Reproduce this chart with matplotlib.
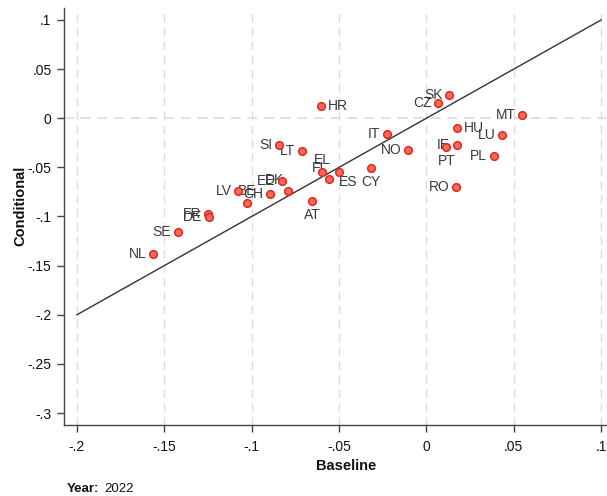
import matplotlib
matplotlib.use("Agg")
import matplotlib.pyplot as plt

plt.rcParams["font.family"] = ["Liberation Sans", "DejaVu Sans"]

# ----------------- Data -----------------
countries = ["SK", "CZ", "HR", "MT", "HU", "LU", "IT", "IE", "PT", "PL",
             "NO", "CY", "RO", "EL", "FI", "ES", "AT", "SI", "LT", "EE",
             "DK", "CH", "BE", "LV", "FR", "DE", "SE", "NL"]
baseline = [0.0132, 0.0069, -0.0601, 0.0550, 0.0177, 0.0435, -0.0223, 0.0177, 0.0114, 0.0389,
            -0.0103, -0.0315, 0.0172, -0.0595, -0.0560, -0.0498, -0.0653, -0.0841, -0.0710, -0.0824,
            -0.0790, -0.0893, -0.1025, -0.1076, -0.1248, -0.1242, -0.1420, -0.1563]
conditional = [0.0234, 0.0153, 0.0122, 0.0031, -0.0102, -0.0173, -0.0163, -0.0275, -0.0295, -0.0387,
               -0.0326, -0.0509, -0.0703, -0.0550, -0.0621, -0.0550, -0.0845, -0.0275, -0.0336, -0.0642,
               -0.0743, -0.0774, -0.0866, -0.0743, -0.0978, -0.1008, -0.1161, -0.1385]

x_ticks = [-0.2, -0.15, -0.1, -0.05, 0, 0.05, 0.1]
x_tick_labels = ["-.2", "-.15", "-.1", "-.05", "0", ".05", ".1"]
y_ticks = [0.1, 0.05, 0, -0.05, -0.1, -0.15, -0.2, -0.25, -0.3]
y_tick_labels = [".1", ".05", "0", "-.05", "-.1", "-.15", "-.2", "-.25", "-.3"]
diag = [-0.2, 0.1]

# label placement, clock positions (stata style), default is 9
label_pos = {"HR": 3, "HU": 3, "PT": 6, "CY": 6, "AT": 6, "EL": 12, "BE": 12,
             "FI": 10, "ES": 4, "DK": 10}
offsets = {
    3: ((5, 0), "left", "center"),
    9: ((-5, 0), "right", "center"),
    6: ((0, -5), "center", "top"),
    12: ((0, 4), "center", "bottom"),
    10: ((-3, 3), "right", "bottom"),
    4: ((0, -2), "left", "top"),
}

# ----------------- Plot -----------------
fig = plt.figure(figsize=(6.07, 4.96), dpi=100)
ax = fig.add_axes([64 / 607, 71 / 496, 543 / 607, 417 / 496])
ax.set_xlim(-0.2074, 0.1034)
ax.set_ylim(-0.3122, 0.1122)

for xt in x_ticks:
    ax.axvline(xt, color="#dcdcdc", linestyle=(0, (6, 4)), linewidth=1, zorder=0)
ax.axhline(0, color="#dcdcdc", linestyle=(0, (6, 4)), linewidth=1.2, zorder=0)

ax.plot(diag, diag, color="#333333", linewidth=1, zorder=1)

ax.scatter(baseline, conditional, s=30, facecolor="#f26b5b", edgecolor="#e3261b",
           linewidth=1.1, zorder=3)

for c, bx, cy in zip(countries, baseline, conditional):
    (dx, dy), ha, va = offsets[label_pos.get(c, 9)]
    ax.annotate(c, (bx, cy), xytext=(dx, dy), textcoords="offset points",
                ha=ha, va=va, fontsize=10, color="#3a3a3a", zorder=2)

ax.set_xticks(x_ticks)
ax.set_xticklabels(x_tick_labels)
ax.set_yticks(y_ticks)
ax.set_yticklabels(y_tick_labels)
ax.tick_params(axis="both", direction="out", length=5, width=1, color="#444444",
               labelsize=10, labelcolor="#111111")
ax.tick_params(axis="x", pad=6)
ax.tick_params(axis="y", pad=4)

for side in ["top", "right"]:
    ax.spines[side].set_visible(False)
for side in ["left", "bottom"]:
    ax.spines[side].set_color("#444444")
    ax.spines[side].set_linewidth(1)

fig.text(20 / 607, 1 - 206 / 496, "Conditional", rotation=90, ha="center", va="center",
         fontsize=10.5, fontweight="bold", color="#111111")
fig.text(346 / 607, 1 - 466 / 496, "Baseline", ha="center", va="center",
         fontsize=10.5, fontweight="bold", color="#111111")
fig.text(67 / 607, 1 - 489 / 496, "Year:", ha="left", va="center",
         fontsize=9.5, fontweight="bold", color="#111111")
fig.text(104 / 607, 1 - 489 / 496, "2022", ha="left", va="center",
         fontsize=9.5, color="#111111")

fig.savefig("out.png", dpi=100)
